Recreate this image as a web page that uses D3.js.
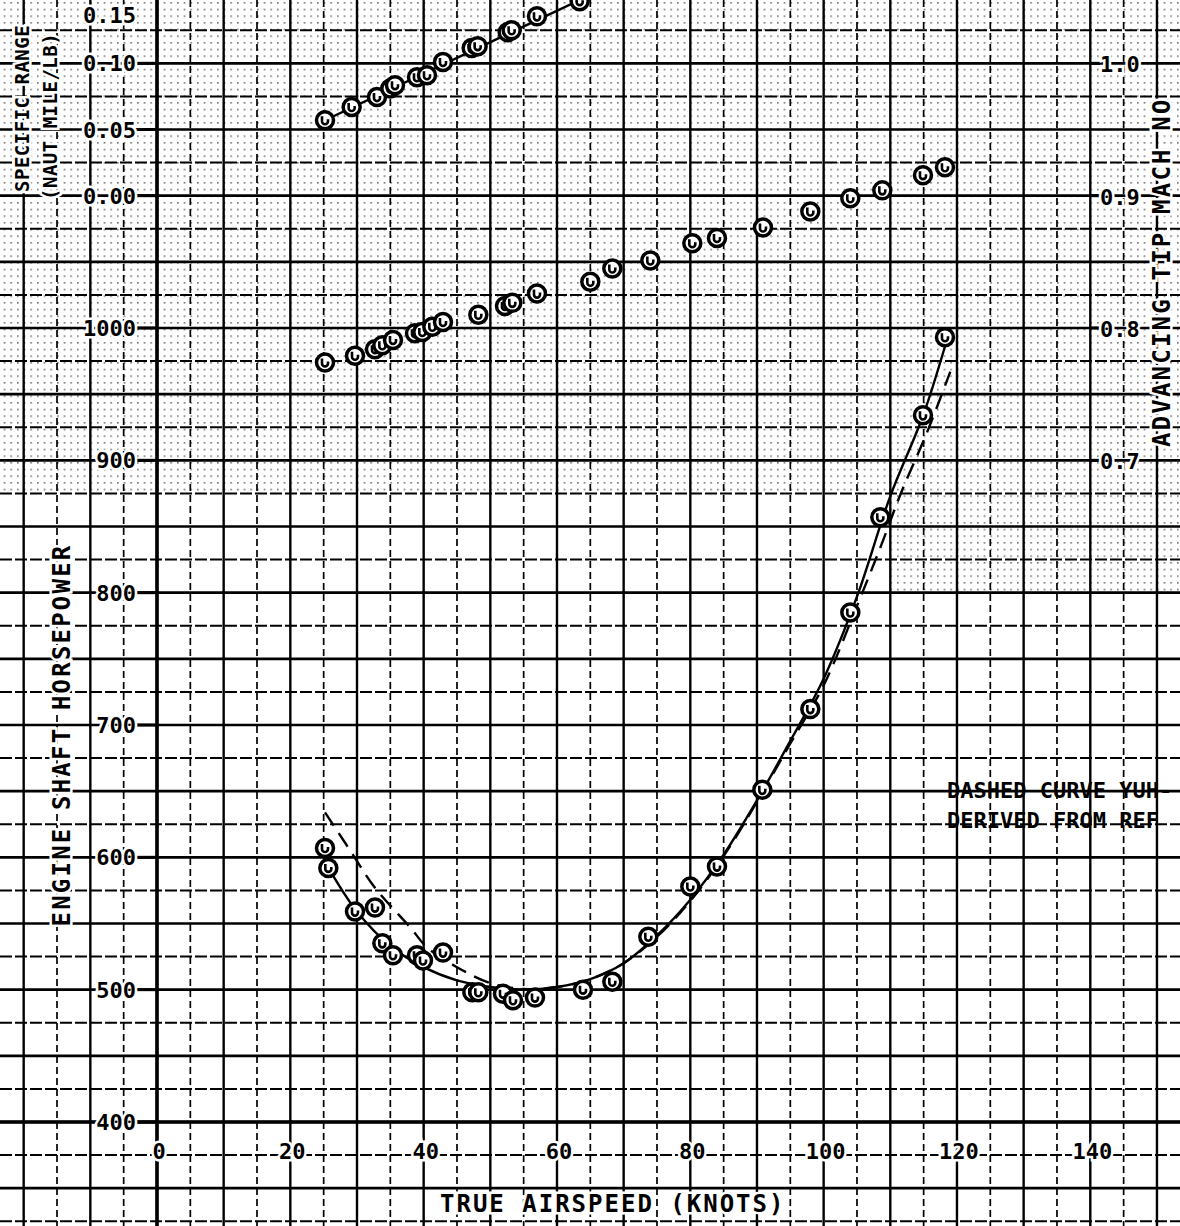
<!DOCTYPE html>
<html>
<head>
<meta charset="utf-8">
<script src="https://cdn.jsdelivr.net/npm/d3@7/dist/d3.min.js"></script>
<style>
  html, body { margin: 0; padding: 0; background: #fff; }
  svg { display: block; }
  text { font-family: "DejaVu Sans Mono", monospace; font-weight: bold; fill: #000; }
</style>
</head>
<body>
<div id="chart"></div>
<script>
const width = 1180;
const height = 1226;

// tick labels
const speedTicks = [0, 20, 40, 60, 80, 100, 120, 140];
const hpTicks = [400, 500, 600, 700, 800, 900, 1000];
const rangeTicks = [0.0, 0.05, 0.1, 0.15];
const machTicks = [0.7, 0.8, 0.9, 1.0];

// specific range points (top)
const rangeSpeed = [25.2, 29.2, 33.0, 35.0, 35.7, 39.0, 40.5, 42.9, 47.2, 48.1, 52.6, 53.2, 57.0, 63.4];
const rangeValue = [0.057, 0.067, 0.0745, 0.081, 0.0835, 0.0895, 0.091, 0.101, 0.1115, 0.113, 0.1235, 0.125, 0.1355, 0.147];
const rangeFitSpeed = [25.2, 66];
const rangeFitValue = [0.057, 0.154];

// advancing tip mach number points (middle)
const machSpeed = [25.2, 29.7, 32.7, 33.8, 35.4, 38.7, 39.8, 41.3, 42.9, 48.2, 52.2, 53.3, 57.0, 65.0,
  68.3, 74.0, 80.3, 84.0, 90.9, 98.0, 104.0, 108.8, 114.9, 118.2];
const machValue = [0.774, 0.779, 0.784, 0.787, 0.791, 0.796, 0.797, 0.801, 0.8045, 0.810, 0.8166, 0.819, 0.826, 0.835,
  0.845, 0.851, 0.864, 0.868, 0.876, 0.888, 0.898, 0.904, 0.9155, 0.9215];

// engine shaft horsepower points (bottom)
const hpSpeed = [25.2, 25.7, 29.7, 32.7, 33.8, 35.4, 39.0, 39.9, 42.9, 47.3, 48.2, 51.9, 53.4, 56.7,
  63.9, 68.3, 73.7, 80.0, 84.0, 90.8, 98.0, 104.0, 108.5, 114.9, 118.2];
const hpValue = [607, 592, 559, 562, 535, 526, 526, 522, 528, 498, 498, 497, 492, 494,
  500, 506, 540, 578, 593, 651, 712, 785, 857, 934, 993];

// solid fitted curve
const fitSpeed = [25.6, 30, 35, 40, 45, 50, 55, 60, 65, 70, 75, 80, 85, 90, 95, 100, 105, 110, 115, 119];
const fitHp = [593, 559, 533, 517, 507, 502, 500, 502, 508, 520, 541, 568, 602, 643, 688, 735, 797, 873, 935, 1000];

// dashed curve (derived from ref)
const refSpeed = [25.2, 29, 32.7, 38, 40.5, 45, 50, 55, 60, 65, 70, 75, 80, 85, 90, 95, 100, 105, 108.8, 111.5, 115.5, 119];
const refHp = [634, 605, 577, 547, 532, 517, 505, 500.5, 502, 508, 520, 540, 567, 601, 642, 686, 730, 790, 838, 874, 921, 967];

const noteLines = ["DASHED CURVE YUH-", "DERIVED FROM REF"];

const x = d3.scaleLinear().domain([0, 140]).range([157, 1090.3]);
const y = d3.scaleLinear().domain([400, 1000]).range([1122, 328]);
const yRange = d3.scaleLinear().domain([0, 0.15]).range([y(1100), y(1250)]);
const yMach = d3.scaleLinear().domain([0.7, 1.0]).range([y(900), y(1200)]);

const svg = d3.select("#chart").append("svg")
  .attr("width", width).attr("height", height)
  .attr("viewBox", `0 0 ${width} ${height}`);

svg.append("rect").attr("width", width).attr("height", height).attr("fill", "#fff");

// fine dot texture of the graph paper
const defs = svg.append("defs");
const cell = (x(5) - x(0)) / 5;
const pat = defs.append("pattern")
  .attr("id", "dots").attr("patternUnits", "userSpaceOnUse")
  .attr("x", x(0)).attr("y", y(400))
  .attr("width", cell).attr("height", cell);
pat.append("rect").attr("x", 0).attr("y", 0).attr("width", 1.6).attr("height", 1.6).attr("fill", "#000").attr("opacity", 0.55);
svg.append("rect").attr("x", 0).attr("y", 0).attr("width", width).attr("height", y(875)).attr("fill", "url(#dots)");
svg.append("rect").attr("x", x(110)).attr("y", y(875)).attr("width", width - x(110)).attr("height", y(800) - y(875)).attr("fill", "url(#dots)");

// grid
const grid = svg.append("g");
d3.range(-20, 160, 5).forEach((k) => {
  const major = k % 10 === 0;
  grid.append("line")
    .attr("x1", x(k)).attr("x2", x(k)).attr("y1", 0).attr("y2", height)
    .attr("stroke", "#000")
    .attr("stroke-width", major ? 2.4 : 1.7)
    .attr("stroke-dasharray", major ? null : "7,4");
});
d3.range(325, 1275, 25).forEach((h) => {
  const major = h % 50 === 0;
  grid.append("line")
    .attr("x1", 0).attr("x2", width).attr("y1", y(h)).attr("y2", y(h))
    .attr("stroke", "#000")
    .attr("stroke-width", major ? 2.6 : 2)
    .attr("stroke-dasharray", major ? null : "12,3");
});

// axis lines
svg.append("line").attr("x1", x(0)).attr("x2", x(0)).attr("y1", 0).attr("y2", height)
  .attr("stroke", "#000").attr("stroke-width", 3.6);
svg.append("line").attr("x1", 0).attr("x2", width).attr("y1", y(400)).attr("y2", y(400))
  .attr("stroke", "#000").attr("stroke-width", 3.6);

// tick labels
const labelBg = (sel) => sel.attr("stroke", "#fff").attr("stroke-width", 5).attr("paint-order", "stroke");

hpTicks.forEach((t) => {
  svg.append("line").attr("x1", 136).attr("x2", x(0)).attr("y1", y(t)).attr("y2", y(t)).attr("stroke", "#000").attr("stroke-width", 3);
  svg.append("text").attr("x", 136).attr("y", y(t) + 8).attr("text-anchor", "end")
    .attr("font-size", 22).call(labelBg).text(t);
});
rangeTicks.forEach((t) => {
  svg.append("line").attr("x1", 136).attr("x2", x(0)).attr("y1", yRange(t)).attr("y2", yRange(t)).attr("stroke", "#000").attr("stroke-width", 3);
  svg.append("text").attr("x", 136).attr("y", Math.max(yRange(t) + 8, 23)).attr("text-anchor", "end")
    .attr("font-size", 22).call(labelBg).text(t.toFixed(2));
});
machTicks.forEach((t) => {
  svg.append("line").attr("x1", x(140)).attr("x2", 1100).attr("y1", yMach(t)).attr("y2", yMach(t)).attr("stroke", "#000").attr("stroke-width", 3);
  svg.append("text").attr("x", 1100).attr("y", yMach(t) + 9).attr("text-anchor", "start")
    .attr("font-size", 22).call(labelBg).text(t.toFixed(1));
});
speedTicks.forEach((t) => {
  svg.append("text").attr("x", x(t) + 2).attr("y", 1159).attr("text-anchor", "middle")
    .attr("font-size", 22).call(labelBg).text(t);
});

// axis titles
svg.append("text").attr("transform", `translate(70,${735}) rotate(-90)`)
  .attr("text-anchor", "middle").attr("font-size", 24).attr("letter-spacing", 2.2)
  .call(labelBg).text("ENGINE SHAFT HORSEPOWER");
svg.append("text").attr("transform", `translate(29,192) rotate(-90)`)
  .attr("text-anchor", "start").attr("font-size", 19).attr("letter-spacing", 0.5)
  .call(labelBg).text("SPECIFIC RANGE");
svg.append("text").attr("transform", `translate(57,200) rotate(-90)`)
  .attr("text-anchor", "start").attr("font-size", 19).attr("letter-spacing", 0.5)
  .call(labelBg).text("(NAUT MILE/LB)");
svg.append("text").attr("transform", `translate(1170,447) rotate(-90)`)
  .attr("text-anchor", "start").attr("font-size", 24).attr("letter-spacing", 2.2)
  .call(labelBg).text("ADVANCING TIP MACH NO");
svg.append("text").attr("x", 440).attr("y", 1212).attr("font-size", 24).attr("letter-spacing", 2)
  .call(labelBg).text("TRUE AIRSPEED (KNOTS)");

noteLines.forEach((line, i) => {
  svg.append("text").attr("x", 947).attr("y", 798 + i * 30).attr("font-size", 22)
    .text(line);
});

// curves
const curveLine = (ys) => d3.line().x((d) => x(d[0])).y((d) => ys(d[1])).curve(d3.curveCatmullRom);

svg.append("path").datum(d3.zip(rangeFitSpeed, rangeFitValue))
  .attr("d", curveLine(yRange)).attr("fill", "none").attr("stroke", "#000").attr("stroke-width", 2.4);
svg.append("path").datum(d3.zip(refSpeed, refHp))
  .attr("d", curveLine(y)).attr("fill", "none").attr("stroke", "#000").attr("stroke-width", 2.4)
  .attr("stroke-dasharray", "16,9");
svg.append("path").datum(d3.zip(fitSpeed, fitHp))
  .attr("d", curveLine(y)).attr("fill", "none").attr("stroke", "#000").attr("stroke-width", 2.4);

// markers
function drawMarkers(speeds, values, ys) {
  const g = svg.append("g");
  const pts = d3.zip(speeds, values);
  const m = g.selectAll("g").data(pts).join("g")
    .attr("transform", (d) => `translate(${x(d[0])},${ys(d[1])})`);
  m.append("circle").attr("r", 8.5).attr("fill", "#fff").attr("stroke", "#000").attr("stroke-width", 3.5);
  m.append("path").attr("d", "M-3,-4 L-3,1 A3,3 0 0 0 3,1 L3,-1")
    .attr("fill", "none").attr("stroke", "#000").attr("stroke-width", 2.6);
}
drawMarkers(rangeSpeed, rangeValue, yRange);
drawMarkers(machSpeed, machValue, yMach);
drawMarkers(hpSpeed, hpValue, y);
</script>
</body>
</html>
